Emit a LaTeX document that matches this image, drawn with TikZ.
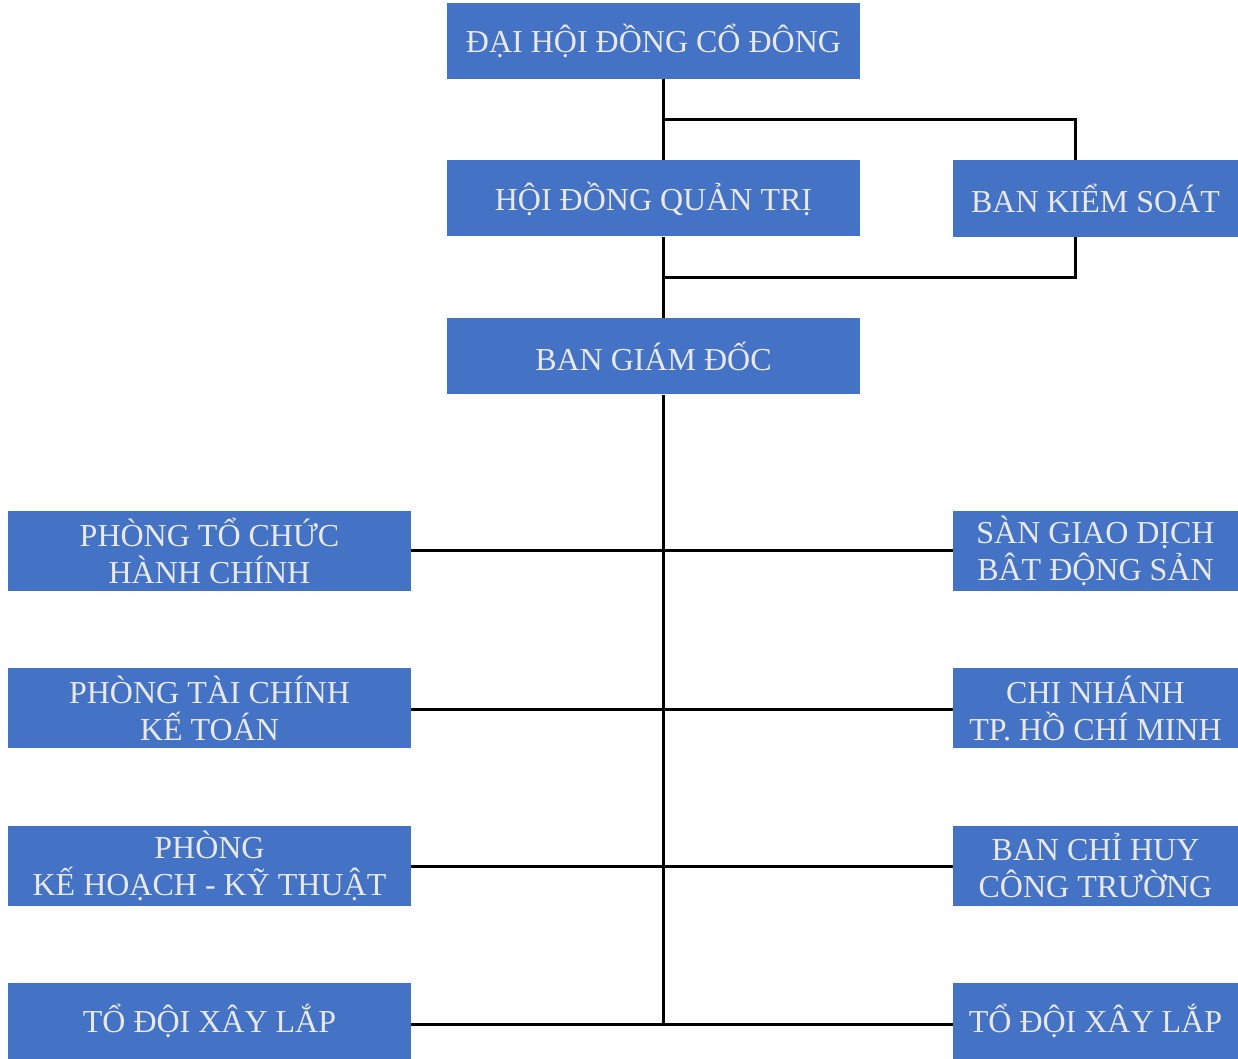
\documentclass[tikz,border=0pt]{standalone}
\usepackage{fontspec}
\setmainfont{Liberation Serif}
\usetikzlibrary{positioning,calc}
\definecolor{boxblue}{HTML}{4472C4}
\definecolor{boxtext}{HTML}{E8E8E8}
\tikzset{
box/.style={
  rectangle,
  fill=boxblue,
  text=boxtext,
  align=center,
  inner sep=0pt,
  font=\fontsize{16}{18.5}\selectfont
},
wide/.style={box, minimum width=206.5pt, minimum height=38pt},
side/.style={box, minimum width=201.5pt, minimum height=40pt},
narrow/.style={box, minimum width=142.5pt, minimum height=40pt},
link/.style={line width=1.5pt}
}

\begin{document}
\begin{tikzpicture}[x=0.5pt,y=-0.5pt]
\useasboundingbox (0,0) rectangle (1238,1059);
% upper levels
\node[wide] (dhdcd) at (653.5,41) {ĐẠI HỘI ĐỒNG CỔ ĐÔNG};
\node[wide] (hdqt) at (653.5,198.5) {HỘI ĐỒNG QUẢN TRỊ};
\node[narrow, minimum height=38.5pt] (bks) at (1095.5,198.5) {BAN KIỂM SOÁT};
\node[wide] (bgd) at (653.5,356.5) {BAN GIÁM ĐỐC};
% departments
\node[side] (ptc) at (209.5,550.5) {PHÒNG TỔ CHỨC\\HÀNH CHÍNH};
\node[side] (ptk) at (209.5,708) {PHÒNG TÀI CHÍNH\\KẾ TOÁN};
\node[side] (pkh) at (209.5,866) {PHÒNG\\KẾ HOẠCH - KỸ THUẬT};
\node[side, minimum height=38pt] (tdl) at (209.5,1021) {TỔ ĐỘI XÂY LẮP};
\node[narrow] (sgd) at (1095.5,550.5) {SÀN GIAO DỊCH\\BÂT ĐỘNG SẢN};
\node[narrow] (cn) at (1095.5,708) {CHI NHÁNH\\TP. HỒ CHÍ MINH};
\node[narrow] (bch) at (1095.5,866) {BAN CHỈ HUY\\CÔNG TRƯỜNG};
\node[narrow, minimum height=38pt] (tdr) at (1095.5,1021) {TỔ ĐỘI XÂY LẮP};
% helper points
\coordinate (trunk) at (663,0);
\coordinate (bksx) at (1075,0);
\coordinate (up) at (0,120);
\coordinate (down) at (0,278);
\coordinate (foot) at (0,1024);
% connectors
\draw[link] (dhdcd.south -| trunk) -- (hdqt.north -| trunk);
\draw[link] (trunk |- up) -| (bks.north -| bksx);
\draw[link] (hdqt.south -| trunk) -- (bgd.north -| trunk);
\draw[link] (trunk |- down) -| (bks.south -| bksx);
\draw[link] (bgd.south -| trunk) -- (trunk |- foot);
\draw[link] (ptc.east) -- (sgd.west);
\draw[link] (ptk.east |- 0,709) -- (cn.west |- 0,709);
\draw[link] (pkh.east) -- (bch.west);
\draw[link] (tdl.east |- foot) -- (tdr.west |- foot);
\end{tikzpicture}
\end{document}
